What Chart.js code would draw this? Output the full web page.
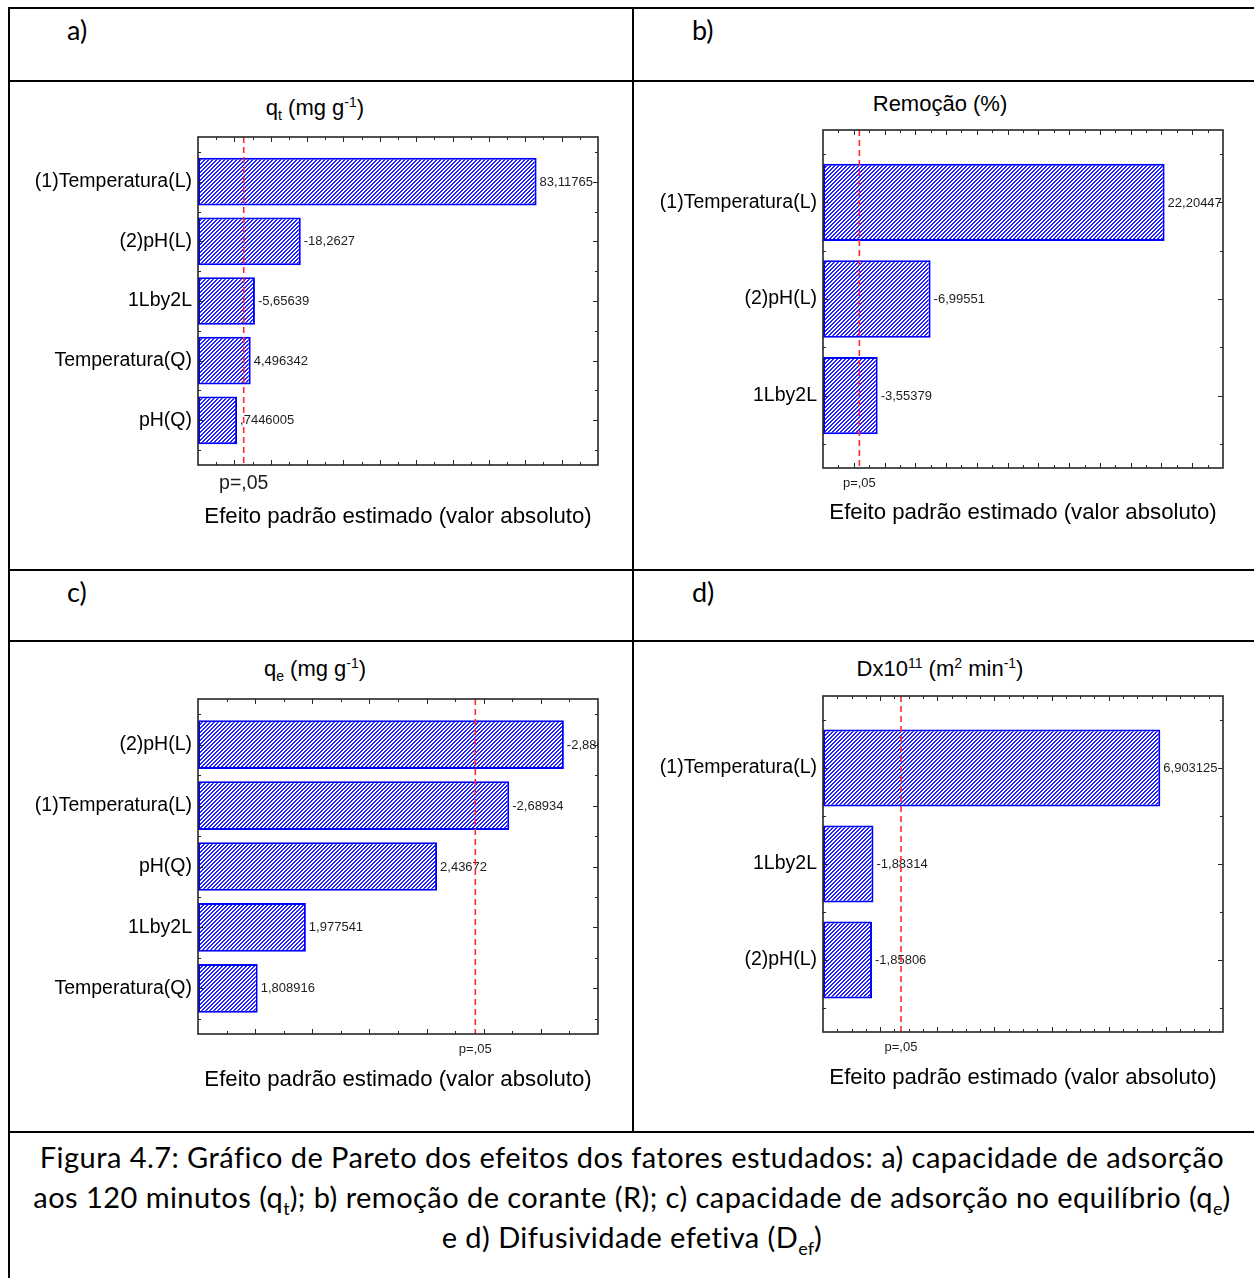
<!DOCTYPE html>
<html lang="pt">
<head>
<meta charset="utf-8">
<title>Gráfico de Pareto dos efeitos</title>
<script src="https://cdn.jsdelivr.net/npm/chart.js@4.4.1/dist/chart.umd.min.js"></script>
<style>
  html, body { margin: 0; padding: 0; background: #fff; }
  body { width: 1254px; height: 1278px; position: relative; overflow: hidden; }
  .rule { position: absolute; background: #000; }
  .tag { position: absolute; font-family: Lato, sans-serif; font-size: 27px; line-height: 30px; color: #000; }
  .title { position: absolute; width: 440px; text-align: center; white-space: nowrap;
           font-family: "Liberation Sans", Arial, sans-serif; font-size: 22px; line-height: 26px; color: #000; }
  .title sub, .title sup { font-size: 14px; line-height: 0; }
  canvas { position: absolute; }
  .caption { position: absolute; left: 10px; top: 1137px; width: 1244px; text-align: center;
             font-family: Lato, sans-serif; font-size: 29px; line-height: 40px; letter-spacing: 0.45px; color: #000; }
  .caption sub { font-size: 18px; line-height: 0; letter-spacing: 0; }
</style>
</head>
<body>
  <!-- table rules -->
  <div class="rule" style="left:8px;top:7px;width:1246px;height:2px"></div>
  <div class="rule" style="left:8px;top:7px;width:2px;height:1271px"></div>
  <div class="rule" style="left:632px;top:7px;width:2px;height:1126px"></div>
  <div class="rule" style="left:8px;top:80px;width:1246px;height:1.5px"></div>
  <div class="rule" style="left:607px;top:79.5px;width:41px;height:2.5px"></div>
  <div class="rule" style="left:8px;top:569px;width:1246px;height:2px"></div>
  <div class="rule" style="left:8px;top:640px;width:1246px;height:2px"></div>
  <div class="rule" style="left:8px;top:1131px;width:1246px;height:2px"></div>

  <div class="tag" style="left:67px;top:15px">a)</div>
  <div class="tag" style="left:692px;top:15px">b)</div>
  <div class="tag" style="left:67px;top:577px">c)</div>
  <div class="tag" style="left:692px;top:577px">d)</div>

  <div class="title" style="left:95px;top:95px">q<sub>t</sub> (mg g<sup>-1</sup>)</div>
  <div class="title" style="left:720px;top:91px">Remoção (%)</div>
  <div class="title" style="left:95px;top:656px">q<sub>e</sub> (mg g<sup>-1</sup>)</div>
  <div class="title" style="left:720px;top:656px">Dx10<sup>11</sup> (m<sup>2</sup> min<sup>-1</sup>)</div>

  <canvas id="chartA" width="622" height="486" style="left:10px;top:82px"></canvas>
  <canvas id="chartB" width="620" height="486" style="left:634px;top:82px"></canvas>
  <canvas id="chartC" width="622" height="488" style="left:10px;top:642px"></canvas>
  <canvas id="chartD" width="620" height="488" style="left:634px;top:642px"></canvas>

  <div class="caption">
    Figura 4.7: Gráfico de Pareto dos efeitos dos fatores estudados: a) capacidade de adsorção<br>
    aos 120 minutos (q<sub>t</sub>); b) remoção de corante (R); c) capacidade de adsorção no equilíbrio (q<sub>e</sub>)<br>
    e d) Difusividade efetiva (D<sub>ef</sub>)
  </div>

<script>
// Standardized effects (t values) for each response, in Pareto order.
const factorsA = ['(1)Temperatura(L)', '(2)pH(L)', '1Lby2L', 'Temperatura(Q)', 'pH(Q)'];
const effectsA = [83.11765, -18.2627, -5.65639, 4.496342, 0.7446005];

const factorsB = ['(1)Temperatura(L)', '(2)pH(L)', '1Lby2L'];
const effectsB = [22.20447, -6.99551, -3.55379];

const factorsC = ['(2)pH(L)', '(1)Temperatura(L)', 'pH(Q)', '1Lby2L', 'Temperatura(Q)'];
const effectsC = [-2.88056, -2.68934, 2.43672, 1.977541, 1.808916];

const factorsD = ['(1)Temperatura(L)', '1Lby2L', '(2)pH(L)'];
const effectsD = [6.903125, -1.88314, -1.85806];

// Critical t at p = 0.05 (5 residual df for the full model, 7 for the reduced one)
const tCritA = 2.570582;
const tCritB = 2.364624;
const tCritC = 2.570582;
const tCritD = 2.364624;

// Effect axis ranges
const rangeA = [-10, 100];
const rangeB = [0, 26];
const rangeC = [1.6, 3.0];
const rangeD = [1, 8];

const effectAxisTitle = 'Efeito padrão estimado (valor absoluto)';
const pLabel = 'p=,05';

const FONT = '"Liberation Sans", Arial, sans-serif';

// Statistica-style number: decimal comma, no leading zero
function fmtEffect(v) {
  return String(v).replace('.', ',').replace(/^(-?)0,/, '$1,');
}

// Crisp "////" hatch: 4x4 tile, 2-pixel wide diagonal band
function hatch(ctx) {
  const c = document.createElement('canvas');
  c.width = 4; c.height = 4;
  const g = c.getContext('2d');
  g.fillStyle = '#ffffff';
  g.fillRect(0, 0, 4, 4);
  g.fillStyle = '#1f1fff';
  for (let r = 0; r < 4; r++) {
    const col = 3 - r;
    g.fillRect(col, r, 1, 1);
    g.fillRect((col + 1) % 4, r, 1, 1);
  }
  return ctx.createPattern(c, 'repeat');
}

// Value labels, p=.05 reference line and the boxed frame with inward ticks
const paretoDecor = {
  id: 'paretoDecor',
  afterDatasetsDraw(chart, _args, o) {
    const { ctx, chartArea: a, scales: { x, y } } = chart;
    const meta = chart.getDatasetMeta(0);
    const raw = chart.data.datasets[0].data;

    ctx.save();
    ctx.beginPath();
    ctx.rect(a.left, a.top, a.right - a.left, a.bottom - a.top);
    ctx.clip();
    ctx.font = o.valueSize + 'px ' + FONT;
    ctx.fillStyle = '#1e1e1e';
    ctx.textAlign = 'left';
    ctx.textBaseline = 'middle';
    meta.data.forEach((bar, i) => ctx.fillText(fmtEffect(raw[i].effect), bar.x + 3, bar.y + 0.5));
    ctx.restore();

    const px = x.getPixelForValue(o.tCrit);
    ctx.save();
    ctx.strokeStyle = '#ff2a2a';
    ctx.lineWidth = 1.6;
    ctx.setLineDash([6, 4]);
    ctx.beginPath();
    ctx.moveTo(px, a.top);
    ctx.lineTo(px, a.bottom);
    ctx.stroke();
    ctx.restore();

    ctx.save();
    ctx.font = o.pSize + 'px ' + FONT;
    ctx.fillStyle = '#1e1e1e';
    ctx.textAlign = 'center';
    ctx.textBaseline = 'middle';
    ctx.fillText(pLabel, px, a.bottom + o.pOffset);
    ctx.restore();

    ctx.save();
    ctx.strokeStyle = '#262626';
    ctx.lineWidth = 1.6;
    ctx.strokeRect(a.left, a.top, a.right - a.left, a.bottom - a.top);
    ctx.lineWidth = 1;
    ctx.beginPath();
    const steps = Math.round((x.max - x.min) / o.xMinor);
    for (let k = 1; k < steps; k++) {
      const v = x.min + k * o.xMinor;
      const p = Math.round(x.getPixelForValue(v)) + 0.5;
      const r = v / o.xMajor;
      const len = Math.abs(r - Math.round(r)) < 1e-6 ? 5 : 3;
      ctx.moveTo(p, a.top); ctx.lineTo(p, a.top + len);
      ctx.moveTo(p, a.bottom); ctx.lineTo(p, a.bottom - len);
    }
    const n = raw.length;
    for (let k = 0; k <= 2 * n; k++) {
      const v = -0.5 + k * 0.5;
      const p = Math.round(y.getPixelForValue(v)) + 0.5;
      const len = k % 2 === 1 ? 5 : 3;
      ctx.moveTo(a.left, p); ctx.lineTo(a.left + len, p);
      ctx.moveTo(a.right, p); ctx.lineTo(a.right - len, p);
    }
    ctx.stroke();
    ctx.restore();
  }
};

function buildPanel(canvasId, factors, effects, range, tCrit, look) {
  const ctx = document.getElementById(canvasId).getContext('2d');
  const points = effects.map((e, i) => ({ x: Math.abs(e), y: i, effect: e }));
  return new Chart(ctx, {
    type: 'bar',
    data: {
      datasets: [{
        data: points,
        base: range[0],
        backgroundColor: hatch(ctx),
        borderColor: '#0000ff',
        borderWidth: 2,
        borderSkipped: false,
        barPercentage: 0.8,
        categoryPercentage: 1
      }]
    },
    options: {
      indexAxis: 'y',
      responsive: false,
      animation: false,
      devicePixelRatio: 1,
      layout: { padding: { left: 0, top: look.top, right: look.right, bottom: 0 } },
      scales: {
        x: {
          type: 'linear', min: range[0], max: range[1], offset: false,
          afterFit: s => { s.height = look.xHeight; },
          ticks: { display: false },
          grid: { display: false, drawTicks: false, offset: false },
          border: { display: false },
          title: {
            display: true, text: effectAxisTitle, color: '#000',
            font: { family: FONT, size: 22.2 },
            padding: { top: 0, bottom: look.titlePad }
          }
        },
        y: {
          type: 'linear', reverse: true, offset: false,
          min: -0.75, max: factors.length - 0.25,
          afterFit: s => { s.width = look.yWidth; },
          afterBuildTicks: s => { s.ticks = factors.map((_, i) => ({ value: i })); },
          ticks: {
            autoSkip: false, padding: 6, color: '#000',
            font: { family: FONT, size: 19.5 },
            callback: v => factors[Math.round(v)]
          },
          grid: { display: false, drawTicks: false, offset: false },
          border: { display: false }
        }
      },
      plugins: {
        legend: { display: false },
        tooltip: { enabled: false },
        paretoDecor: {
          tCrit: tCrit, valueSize: 13, pSize: look.pSize, pOffset: look.pOffset,
          xMajor: look.xMajor, xMinor: look.xMinor
        }
      }
    },
    plugins: [paretoDecor]
  });
}

buildPanel('chartA', factorsA, effectsA, rangeA, tCritA,
  { top: 55, right: 34, xHeight: 103, yWidth: 188, titlePad: 38, pSize: 19.5, pOffset: 19, xMajor: 10, xMinor: 5 });
buildPanel('chartB', factorsB, effectsB, rangeB, tCritB,
  { top: 48, right: 31, xHeight: 100, yWidth: 189, titlePad: 42, pSize: 13, pOffset: 15, xMajor: 2, xMinor: 1 });
buildPanel('chartC', factorsC, effectsC, rangeC, tCritC,
  { top: 57, right: 34, xHeight: 96, yWidth: 188, titlePad: 37, pSize: 13, pOffset: 15, xMajor: 0.2, xMinor: 0.1 });
buildPanel('chartD', factorsD, effectsD, rangeD, tCritD,
  { top: 54, right: 31, xHeight: 98, yWidth: 189, titlePad: 39, pSize: 13, pOffset: 15, xMajor: 1, xMinor: 0.25 });
</script>
</body>
</html>
